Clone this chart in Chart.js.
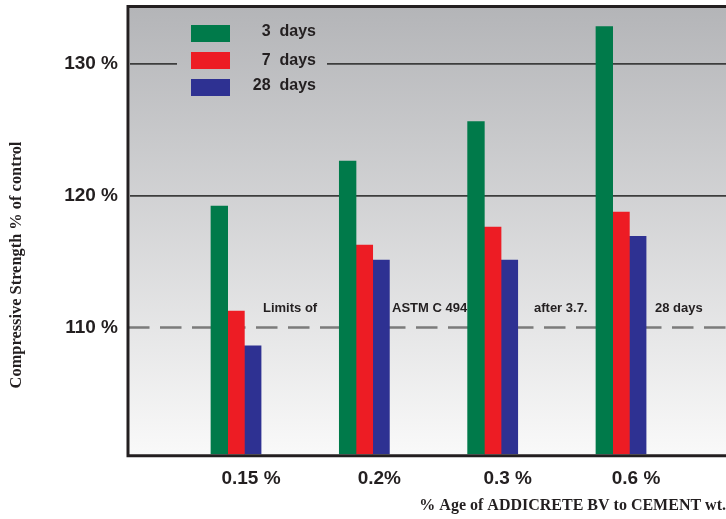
<!DOCTYPE html>
<html>
<head>
<meta charset="utf-8">
<script src="https://cdn.jsdelivr.net/npm/chart.js@4/dist/chart.umd.min.js"></script>
<style>
  html, body { margin: 0; padding: 0; background: #ffffff; }
  #wrap { width: 726px; height: 519px; }
</style>
</head>
<body>
<div id="wrap"><canvas id="c" width="726" height="519"></canvas></div>
<script>
// ---- data ----
const xPositions = [1, 2, 3, 4];
const xTickLabels = ['0.15 %', '0.2%', '0.3 %', '0.6 %'];
const seriesLabels = ['3  days', '7  days', '28  days'];
const days3 = [119.2, 122.6, 125.6, 132.8];
const days7 = [111.25, 116.25, 117.6, 118.75];
const days28 = [108.6, 115.1, 115.1, 116.9];
const yTickValues = [110, 120, 130];
const limitValue = 110;
const limitTexts = ['Limits of', 'ASTM C 494', 'after 3.7.', '28 days'];
const yTitle = 'Compressive Strength % of control';
const xTitle = '% Age of ADDICRETE BV to CEMENT wt.';

const colors = ['#007a4a', '#ed1c24', '#2e3192'];
const INK = '#231f20';

function getGrad(chart) {
  const a = chart.chartArea;
  const g = chart.ctx.createLinearGradient(0, a.top, 0, a.bottom);
  g.addColorStop(0, '#b4b5b8');
  g.addColorStop(1, '#f9f9f9');
  return g;
}

const decor = {
  id: 'decor',
  beforeDraw(chart) {
    const { ctx, chartArea: a } = chart;
    ctx.save();
    ctx.fillStyle = '#ffffff';
    ctx.fillRect(0, 0, chart.width, chart.height);
    ctx.fillStyle = getGrad(chart);
    ctx.fillRect(a.left, a.top, a.right - a.left, a.bottom - a.top);
    ctx.restore();
  },
  beforeDatasetsDraw(chart) {
    const { ctx, chartArea: a, scales } = chart;
    const y = scales.y;
    ctx.save();
    // gap in the top gridline behind the legend
    ctx.fillStyle = getGrad(chart);
    const y130 = y.getPixelForValue(130);
    ctx.fillRect(177, y130 - 3, 150, 6);
    // dashed limit line
    const yl = y.getPixelForValue(limitValue);
    ctx.strokeStyle = '#7b7b7b';
    ctx.lineWidth = 2.5;
    ctx.setLineDash([21.5, 10.5]);
    ctx.beginPath();
    ctx.moveTo(128, yl);
    ctx.lineTo(a.right, yl);
    ctx.stroke();
    ctx.setLineDash([]);
    // texts above the dashed line
    ctx.fillStyle = INK;
    ctx.font = 'bold 13px "Liberation Sans", Arial, sans-serif';
    ctx.textBaseline = 'alphabetic';
    ctx.textAlign = 'left';
    const lx = [263, 392, 534, 655];
    limitTexts.forEach((t, i) => ctx.fillText(t, lx[i], yl - 15.5));
    ctx.restore();
  },
  afterDatasetsDraw(chart) {
    const { ctx, chartArea: a } = chart;
    ctx.save();
    // frame lines
    ctx.strokeStyle = INK;
    ctx.lineWidth = 3;
    ctx.beginPath();
    ctx.moveTo(126.5, 6.5); ctx.lineTo(a.right, 6.5);
    ctx.moveTo(128, 5); ctx.lineTo(128, 457.2);
    ctx.moveTo(126.5, 455.7); ctx.lineTo(a.right, 455.7);
    ctx.stroke();
    // legend
    const boxY = [25, 52, 79];
    const textY = [36, 65, 90];
    ctx.font = 'bold 16px "Liberation Sans", Arial, sans-serif';
    ctx.textAlign = 'right';
    ctx.textBaseline = 'alphabetic';
    chart.data.datasets.forEach((ds, i) => {
      ctx.fillStyle = ds.backgroundColor;
      ctx.fillRect(191, boxY[i], 39, 17);
      ctx.fillStyle = INK;
      ctx.fillText(ds.label, 316, textY[i]);
    });
    // y axis title
    ctx.translate(17, 265);
    ctx.rotate(-Math.PI / 2);
    ctx.font = 'bold 16.4px "Liberation Serif", "Times New Roman", serif';
    ctx.textAlign = 'center';
    ctx.textBaseline = 'middle';
    ctx.fillStyle = INK;
    ctx.fillText(yTitle, 0, 0);
    ctx.restore();
  }
};

new Chart(document.getElementById('c'), {
  type: 'bar',
  data: {
    labels: xPositions,
    datasets: [
      { label: seriesLabels[0], data: days3, backgroundColor: colors[0] },
      { label: seriesLabels[1], data: days7, backgroundColor: colors[1] },
      { label: seriesLabels[2], data: days28, backgroundColor: colors[2] }
    ]
  },
  options: {
    responsive: false,
    animation: false,
    devicePixelRatio: 1,
    barThickness: 16.7,
    borderSkipped: false,
    layout: { padding: { top: 8, right: 0, left: 0, bottom: 0 } },
    plugins: { legend: { display: false }, tooltip: { enabled: false } },
    scales: {
      x: {
        type: 'linear',
        offset: false,
        min: 0.17,
        max: 4.818,
        afterFit(s) { s.height = 64.8; s.paddingLeft = 0; s.paddingRight = 0; },
        afterBuildTicks(s) { s.ticks = xPositions.map(v => ({ value: v })); },
        grid: { display: false, drawTicks: false },
        border: { display: false },
        ticks: {
          padding: 13,
          labelOffset: 15,
          color: INK,
          font: { family: '"Liberation Sans", Arial, sans-serif', weight: 'bold', size: 19 },
          callback(v) { const i = xPositions.indexOf(v); return i >= 0 ? xTickLabels[i] : ''; },
          maxRotation: 0,
          autoSkip: false
        },
        title: {
          display: true,
          text: xTitle,
          align: 'end',
          color: INK,
          padding: { top: 0, bottom: 4 },
          font: { family: '"Liberation Serif", "Times New Roman", serif', weight: 'bold', size: 16 }
        }
      },
      y: {
        min: 100.4,
        max: 134.2,
        afterFit(s) { s.width = 129.5; s.paddingTop = 0; s.paddingBottom = 0; },
        afterBuildTicks(s) { s.ticks = yTickValues.map(v => ({ value: v })); },
        grid: {
          drawTicks: false,
          color(ctx) { return ctx.tick && ctx.tick.value === limitValue ? 'rgba(0,0,0,0)' : '#3d3d3d'; },
          lineWidth: 1.8
        },
        border: { display: false },
        ticks: {
          padding: 11.5,
          color: INK,
          font: { family: '"Liberation Sans", Arial, sans-serif', weight: 'bold', size: 19 },
          callback(v) { return v + ' %'; }
        }
      }
    }
  },
  plugins: [decor]
});
</script>
</body>
</html>
